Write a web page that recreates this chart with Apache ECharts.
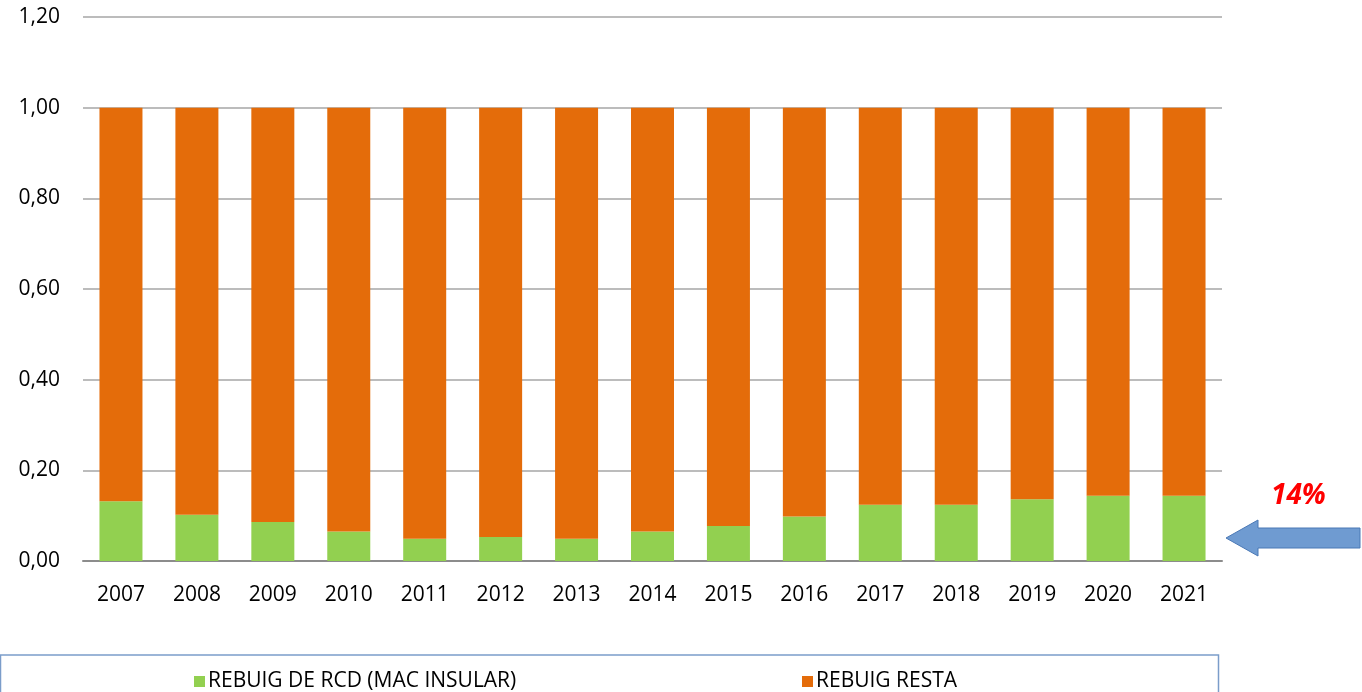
<!DOCTYPE html>
<html>
<head>
<meta charset="utf-8">
<script src="https://cdn.jsdelivr.net/npm/echarts@6/dist/echarts.min.js"></script>
<style>html,body{margin:0;padding:0;background:#fff;}#c{width:1362px;height:692px;}</style>
</head>
<body>
<div id="c"></div>
<script>
const years = ['2007','2008','2009','2010','2011','2012','2013','2014','2015','2016','2017','2018','2019','2020','2021'];
const rcdInsular = [0.132,0.102,0.086,0.065,0.049,0.053,0.049,0.065,0.077,0.098,0.124,0.124,0.136,0.144,0.144];
const resta = [0.868,0.898,0.914,0.935,0.951,0.947,0.951,0.935,0.923,0.902,0.876,0.876,0.864,0.856,0.856];
const seriesNames = ['REBUIG DE RCD (MAC INSULAR)','REBUIG RESTA'];
const annotation = '14%';

const chart = echarts.init(document.getElementById('c'));
const font = 'Open Sans';
chart.setOption({
  animation: false,
  grid: {left: 83, right: 140, top: 17, bottom: 131},
  xAxis: {
    type: 'category', data: years,
    axisLine: {lineStyle: {color: '#8c8c8c', width: 2}},
    axisTick: {show: false},
    axisLabel: {color: '#000', fontFamily: font, fontSize: 21, margin: 24}
  },
  yAxis: {
    type: 'value', min: 0, max: 1.2, interval: 0.2,
    axisLine: {show: false}, axisTick: {show: false},
    splitLine: {lineStyle: {color: '#a6a6a6', width: 1.5}},
    axisLabel: {color: '#000', fontFamily: font, fontSize: 21, margin: 23,
      formatter: v => v.toFixed(2).replace('.', ',')}
  },
  legend: [
    {data: [seriesNames[0]], left: 189, top: 666, itemWidth: 11, itemHeight: 11, itemGap: 0,
      textStyle: {fontFamily: font, fontSize: 21, color: '#000', padding: [0,0,0,-2]}, icon: 'rect'},
    {data: [seriesNames[1]], left: 797, top: 666, itemWidth: 11, itemHeight: 11, itemGap: 0,
      textStyle: {fontFamily: font, fontSize: 21, color: '#000', padding: [0,0,0,-2]}, icon: 'rect'}
  ],
  series: [
    {name: seriesNames[0], type: 'bar', stack: 't', data: rcdInsular, barWidth: 43,
      itemStyle: {color: '#92D050'}},
    {name: seriesNames[1], type: 'bar', stack: 't', data: resta, barWidth: 43,
      itemStyle: {color: '#E46C0A'}}
  ],
  graphic: [
    {type: 'rect', shape: {x: 0.5, y: 655, width: 1218, height: 60},
      style: {fill: 'none', stroke: '#7b9dca', lineWidth: 1.5}, silent: true},
    {type: 'polygon', shape: {points: [[1226,538],[1258,520],[1258,528],[1360,528],[1360,548],[1258,548],[1258,556]]},
      style: {fill: '#6f9bd1', stroke: '#4a78b5', lineWidth: 1}, silent: true},
    {type: 'text', left: 1271, top: 482,
      style: {text: annotation, fill: '#ff0000', font: 'italic bold 28px "Open Sans"'}}
  ]
});
</script>
</body>
</html>
